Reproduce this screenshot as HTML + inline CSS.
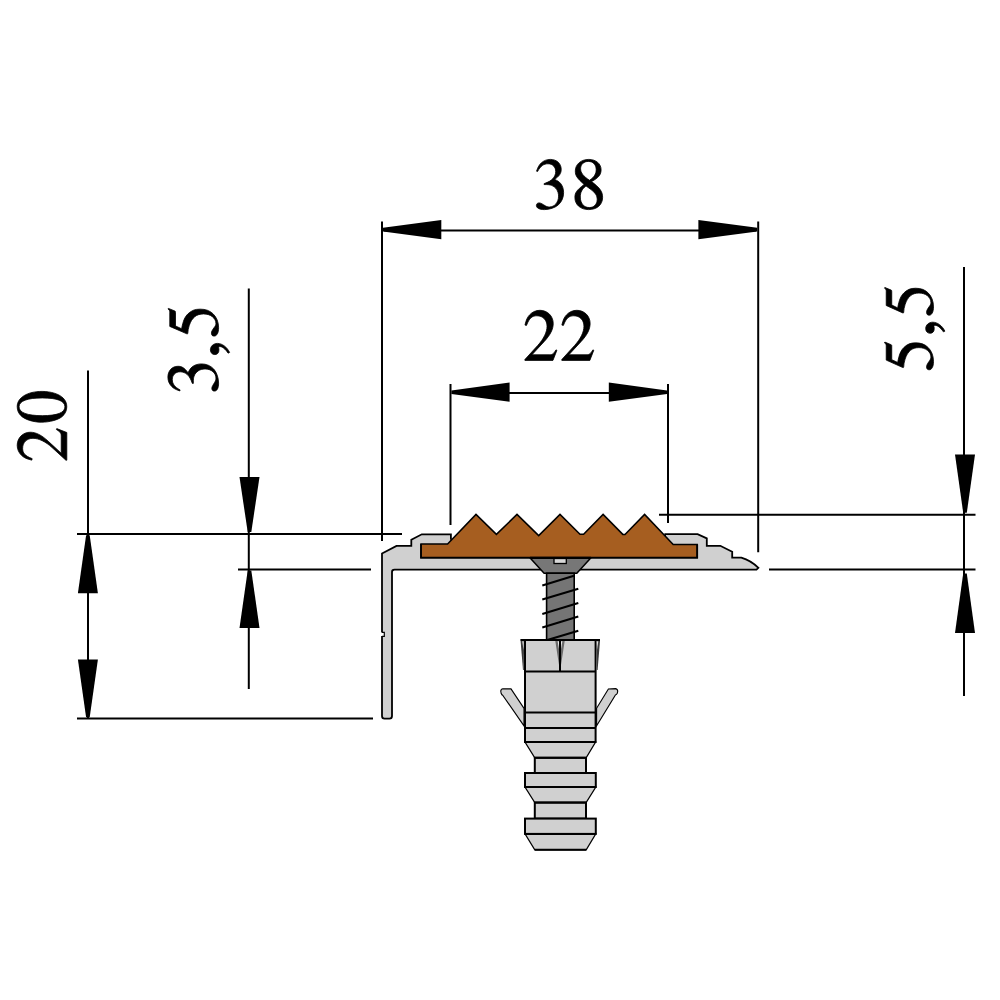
<!DOCTYPE html>
<html><head><meta charset="utf-8"><style>
html,body{margin:0;padding:0;background:#fff;width:1000px;height:1000px;overflow:hidden}
svg{display:block}
</style></head><body>
<svg width="1000" height="1000" viewBox="0 0 1000 1000">
<defs><clipPath id="sh"><rect x="538" y="573.8" width="45" height="65.6"/></clipPath></defs>
<g stroke="#000" stroke-width="2" fill="none">
<line x1="382" y1="221.6" x2="382" y2="541"/>
<line x1="758.2" y1="221.6" x2="758.2" y2="552.2"/>
<line x1="384" y1="230.5" x2="756" y2="230.5"/>
<line x1="450.5" y1="384" x2="450.5" y2="525"/>
<line x1="668" y1="384" x2="668" y2="523"/>
<line x1="452" y1="393" x2="666" y2="393"/>
<line x1="248.8" y1="288.5" x2="248.8" y2="689"/>
<line x1="88" y1="370.5" x2="88" y2="718"/>
<line x1="964" y1="267" x2="964" y2="696"/>
<line x1="77" y1="534" x2="402" y2="534"/>
<line x1="238" y1="569.5" x2="371" y2="569.5"/>
<line x1="77" y1="718.5" x2="373" y2="718.5"/>
<line x1="659" y1="514.7" x2="975.5" y2="514.7"/>
<line x1="769" y1="569.5" x2="975.5" y2="569.5"/>
</g>
<g fill="#000">
<polygon points="383,227.79999999999998 441.3,220.0 441.3,239.2 383,231.4"/>
<polygon points="757.2,227.79999999999998 698.4,220.0 698.4,239.2 757.2,231.4"/>
<polygon points="451.4,390.4 509.6,382.59999999999997 509.6,401.8 451.4,394.0"/>
<polygon points="667,390.4 608.8,382.59999999999997 608.8,401.8 667,394.0"/>
<polygon points="247.7,532 239.5,477 259.5,477 251.3,532"/>
<polygon points="247.7,570.4 239.5,628 259.5,628 251.3,570.4"/>
<polygon points="86.10000000000001,535.3 77.9,593.2 97.9,593.2 89.7,535.3"/>
<polygon points="86.10000000000001,717.2 77.9,659.6 97.9,659.6 89.7,717.2"/>
<polygon points="963.2,512.8 955,454.6 975,454.6 966.8,512.8"/>
<polygon points="963.2,573.6 955,633 975,633 966.8,573.6"/>
</g>
<g fill="#000" stroke="#000" stroke-width="0.8" stroke-linejoin="round">
<path transform="translate(533.39,208.58) scale(0.06992,-0.07275)" vector-effect="non-scaling-stroke" d="M432 219C432 270 416 317 387 348C367 370 348 382 304 401C373 448 398 485 398 539C398 620 334 676 242 676C192 676 148 659 112 627C82 600 67 574 45 514L60 510C101 583 146 616 209 616C274 616 319 572 319 509C319 473 304 437 279 412C249 382 221 367 153 343V330C212 330 235 328 259 319C321 297 360 240 360 171C360 87 303 22 229 22C202 22 182 29 145 53C115 71 98 78 81 78C58 78 43 64 43 43C43 8 86 -14 156 -14C233 -14 312 12 359 53C406 94 432 152 432 219Z"/>
<path transform="translate(570.91,208.58) scale(0.07121,-0.07275)" vector-effect="non-scaling-stroke" d="M445 155C445 232 411 281 290 371C389 424 424 466 424 534C424 616 352 676 252 676C143 676 62 609 62 518C62 453 81 424 186 332C78 250 56 219 56 151C56 54 135 -14 248 -14C368 -14 445 52 445 155ZM369 124C369 59 324 14 259 14C183 14 132 72 132 159C132 223 154 265 212 312L272 268C345 216 369 180 369 124ZM355 535C355 478 327 433 270 395C265 392 265 392 261 389C172 447 136 493 136 549C136 607 181 648 244 648C312 648 355 604 355 535Z"/>
<path transform="translate(522.74,360.40) scale(0.07191,-0.07411)" vector-effect="non-scaling-stroke" d="M475 137 462 142C425 85 412 76 367 76H128L296 252C385 345 424 421 424 499C424 599 343 676 239 676C184 676 132 654 95 614C63 580 48 548 31 477L52 472C92 570 128 602 197 602C281 602 338 545 338 461C338 383 292 290 208 201L30 12V0H420Z"/>
<path transform="translate(559.64,360.40) scale(0.07191,-0.07411)" vector-effect="non-scaling-stroke" d="M475 137 462 142C425 85 412 76 367 76H128L296 252C385 345 424 421 424 499C424 599 343 676 239 676C184 676 132 654 95 614C63 580 48 548 31 477L52 472C92 570 128 602 197 602C281 602 338 545 338 461C338 383 292 290 208 201L30 12V0H420Z"/>
<path transform="translate(66.80,462.33) rotate(-90) scale(0.07101,-0.07337)" vector-effect="non-scaling-stroke" d="M475 137 462 142C425 85 412 76 367 76H128L296 252C385 345 424 421 424 499C424 599 343 676 239 676C184 676 132 654 95 614C63 580 48 548 31 477L52 472C92 570 128 602 197 602C281 602 338 545 338 461C338 383 292 290 208 201L30 12V0H420Z"/>
<path transform="translate(65.79,423.84) rotate(-90) scale(0.06814,-0.07188)" vector-effect="non-scaling-stroke" d="M476 330C476 535 385 676 254 676C199 676 157 659 120 624C62 568 24 453 24 336C24 227 57 110 104 54C141 10 192 -14 250 -14C301 -14 344 3 380 38C438 93 476 209 476 330ZM380 328C380 119 336 12 250 12C164 12 120 119 120 327C120 539 165 650 251 650C335 650 380 537 380 328Z"/>
<path transform="translate(217.57,394.11) rotate(-90) scale(0.06992,-0.07348)" vector-effect="non-scaling-stroke" d="M432 219C432 270 416 317 387 348C367 370 348 382 304 401C373 448 398 485 398 539C398 620 334 676 242 676C192 676 148 659 112 627C82 600 67 574 45 514L60 510C101 583 146 616 209 616C274 616 319 572 319 509C319 473 304 437 279 412C249 382 221 367 153 343V330C212 330 235 328 259 319C321 297 360 240 360 171C360 87 303 22 229 22C202 22 182 29 145 53C115 71 98 78 81 78C58 78 43 64 43 43C43 8 86 -14 156 -14C233 -14 312 12 359 53C406 94 432 152 432 219Z"/>
<path transform="translate(218.46,359.11) rotate(-90) scale(0.08058,-0.07901)" vector-effect="non-scaling-stroke" d="M195 13C195 63 160 102 115 102C80 102 56 79 56 45C56 13 79 -6 115 -6C121 -6 128 -5 134 -4C141 -2 142 -2 142 -2C150 -2 156 -8 156 -16C156 -48 128 -85 74 -122L83 -141C150 -108 195 -47 195 13Z"/>
<path transform="translate(217.59,338.28) rotate(-90) scale(0.06823,-0.07222)" vector-effect="non-scaling-stroke" d="M438 681 429 688C414 667 404 662 383 662H174L65 425C64 423 64 420 64 420C64 415 68 412 76 412C108 412 148 405 189 392C304 355 357 293 357 194C357 98 296 23 218 23C198 23 181 30 151 52C119 75 96 85 75 85C46 85 32 73 32 48C32 10 79 -14 154 -14C238 -14 310 13 360 64C406 109 427 166 427 242C427 314 408 360 358 410C314 454 257 477 139 498L181 583H377C393 583 397 585 400 592Z"/>
<path transform="translate(932.52,371.98) rotate(-90) scale(0.06823,-0.06994)" vector-effect="non-scaling-stroke" d="M438 681 429 688C414 667 404 662 383 662H174L65 425C64 423 64 420 64 420C64 415 68 412 76 412C108 412 148 405 189 392C304 355 357 293 357 194C357 98 296 23 218 23C198 23 181 30 151 52C119 75 96 85 75 85C46 85 32 73 32 48C32 10 79 -14 154 -14C238 -14 310 13 360 64C406 109 427 166 427 242C427 314 408 360 358 410C314 454 257 477 139 498L181 583H377C393 583 397 585 400 592Z"/>
<path transform="translate(933.76,337.77) rotate(-90) scale(0.07986,-0.07901)" vector-effect="non-scaling-stroke" d="M195 13C195 63 160 102 115 102C80 102 56 79 56 45C56 13 79 -6 115 -6C121 -6 128 -5 134 -4C141 -2 142 -2 142 -2C150 -2 156 -8 156 -16C156 -48 128 -85 74 -122L83 -141C150 -108 195 -47 195 13Z"/>
<path transform="translate(932.52,317.38) rotate(-90) scale(0.06823,-0.06994)" vector-effect="non-scaling-stroke" d="M438 681 429 688C414 667 404 662 383 662H174L65 425C64 423 64 420 64 420C64 415 68 412 76 412C108 412 148 405 189 392C304 355 357 293 357 194C357 98 296 23 218 23C198 23 181 30 151 52C119 75 96 85 75 85C46 85 32 73 32 48C32 10 79 -14 154 -14C238 -14 310 13 360 64C406 109 427 166 427 242C427 314 408 360 358 410C314 454 257 477 139 498L181 583H377C393 583 397 585 400 592Z"/>
</g>
<!-- profile -->
<path d="M382,553.5 L396.5,545.9 L411.3,545.9 L411.3,539.7 L421.8,534.3 L450.9,534.3 L450.9,538.5 L453,546 L664,546 L665.2,534.2 L697.6,534.2 L706.8,538.4 L706.8,545.8 L720.3,545.8 L732.2,551.8 L732.2,557.6 L741.3,557.6 Q751,560.5 758.4,567.8 L756.5,569.6 L394.5,569.6 Q392,569.6 392,572 L392,716 Q392,718.6 389.5,718.6 L384.5,718.6 Q382,718.6 382,716 Z" fill="#d0d0d0" stroke="#000" stroke-width="1.8" stroke-linejoin="miter"/>
<!-- notch on outer leg -->
<path d="M381,632.5 L384.5,632.5 L384.5,636 L381,636" fill="#fff" stroke="none"/>
<path d="M382,632.3 L384.3,632.3 L384.3,636.3 L382,636.3" fill="none" stroke="#000" stroke-width="1.2"/>
<!-- insert -->
<path d="M421,557.7 L421,544.1 L447.6,544.1 L476,514.4 L496.4,534.4 L517,514.4 L538.7,535.6 L560,514.4 L580,534.2 L583.6,534.2 L603.1,514.4 L622.8,534.4 L625,534.4 L644.6,514.4 L673.2,544.6 L697.2,544.6 L697.2,557.7 Z" fill="#a65e20" stroke="#000" stroke-width="1.5" stroke-linejoin="miter"/>
<path d="M421,544.1 L421,557.7 L697.2,557.7 L697.2,544.6" fill="none" stroke="#000" stroke-width="1.8"/>
<!-- screw head -->
<polygon points="530.4,558.3 590.5,558.3 576.8,573.2 544.1,573.2" fill="#777777" stroke="#000" stroke-width="1.5"/>
<rect x="554" y="558.5" width="12.3" height="5" fill="#d8d8d8" stroke="#000" stroke-width="1.3"/>
<line x1="530" y1="557.5" x2="591" y2="557.5" stroke="#000" stroke-width="1.6"/>
<!-- shank -->
<rect x="546.6" y="573.2" width="27.6" height="66.6" fill="#757575" stroke="#000" stroke-width="1.6"/>
<g stroke="#000" stroke-width="2.1" clip-path="url(#sh)">
<line x1="542.3" y1="585.5" x2="574" y2="575.8"/>
<line x1="542.3" y1="599.6" x2="578.3" y2="588.8"/>
<line x1="542.3" y1="613.9" x2="578.3" y2="603.1"/>
<line x1="542.3" y1="627.4" x2="578.3" y2="616.6"/>
<line x1="542.3" y1="641.5" x2="578.3" y2="630.7"/>
</g>
<!-- anchor -->
<g fill="#d0d0d0" stroke="#000" stroke-width="1.1">
<path d="M524,708.4 L511,688.9 L503,688.7 Q500.6,689 500.8,691.5 L501.2,693.5 Q501.8,695 503,695.6 L524,725.9 Z"/>
<path d="M596.6,708.2 L608.4,689 L615.6,688.6 Q617.8,689.2 617.7,691.5 L617.3,693.2 Q616.6,694.6 615.3,695.1 L596.6,725.9 Z"/>
</g>
<g fill="#d0d0d0" stroke="#000" stroke-width="2">
<rect x="525" y="640" width="70.6" height="102"/>
</g>
<g stroke="#000" stroke-width="2">
<line x1="520.4" y1="640" x2="600" y2="640"/>
<line x1="560" y1="640" x2="560" y2="671.5"/>
<line x1="525" y1="671.5" x2="595.6" y2="671.5"/>
<line x1="525" y1="712.6" x2="595.6" y2="712.6"/>
<line x1="525" y1="728" x2="595.6" y2="728"/>
</g>
<g fill="#3a3a3a">
<polygon points="520.6,641 524,641 523.8,670 523,670"/>
<polygon points="596.6,641 600,641 597.6,670 596.8,670"/>
</g>
<g fill="#6a6a6a">
<polygon points="555.3,641 559,641 559,665"/>
<polygon points="561,641 564.7,641 561,665"/>
</g>
<g fill="#fff" opacity="0.85">
<polygon points="522.2,641.2 523.8,641.2 523.6,650"/>
<polygon points="596.8,641.2 598.3,641.2 597,650"/>
<polygon points="557.6,641.2 559,641.2 559,649"/>
<polygon points="561,641.2 562.4,641.2 561,649"/>
</g>
<g fill="#d0d0d0" stroke="#000" stroke-width="2">
<polygon points="525,742 595.6,742 586.1,757.8 534.8,757.8" stroke-width="1.2"/>
<rect x="534.8" y="757.8" width="51.2" height="15.2"/>
<rect x="525" y="773" width="70.8" height="14"/>
<polygon points="525,787 595.8,787 586.1,802.6 534.8,802.6" stroke-width="1.2"/>
<rect x="534.8" y="802.6" width="51.2" height="16"/>
<rect x="525" y="818.6" width="70.8" height="15.3"/>
<polygon points="525,833.9 595.8,833.9 586.2,849.8 534.8,849.8" stroke-width="1.2"/>
</g>
<g stroke="#000" stroke-width="2">
<line x1="525" y1="742" x2="595.6" y2="742"/>
<line x1="534.8" y1="757.8" x2="586.1" y2="757.8"/>
<line x1="525" y1="787" x2="595.8" y2="787"/>
<line x1="534.8" y1="802.6" x2="586.1" y2="802.6"/>
<line x1="525" y1="833.9" x2="595.8" y2="833.9"/>
<line x1="534.8" y1="849.8" x2="586.2" y2="849.8"/>
</g>
</svg>
</body></html>
